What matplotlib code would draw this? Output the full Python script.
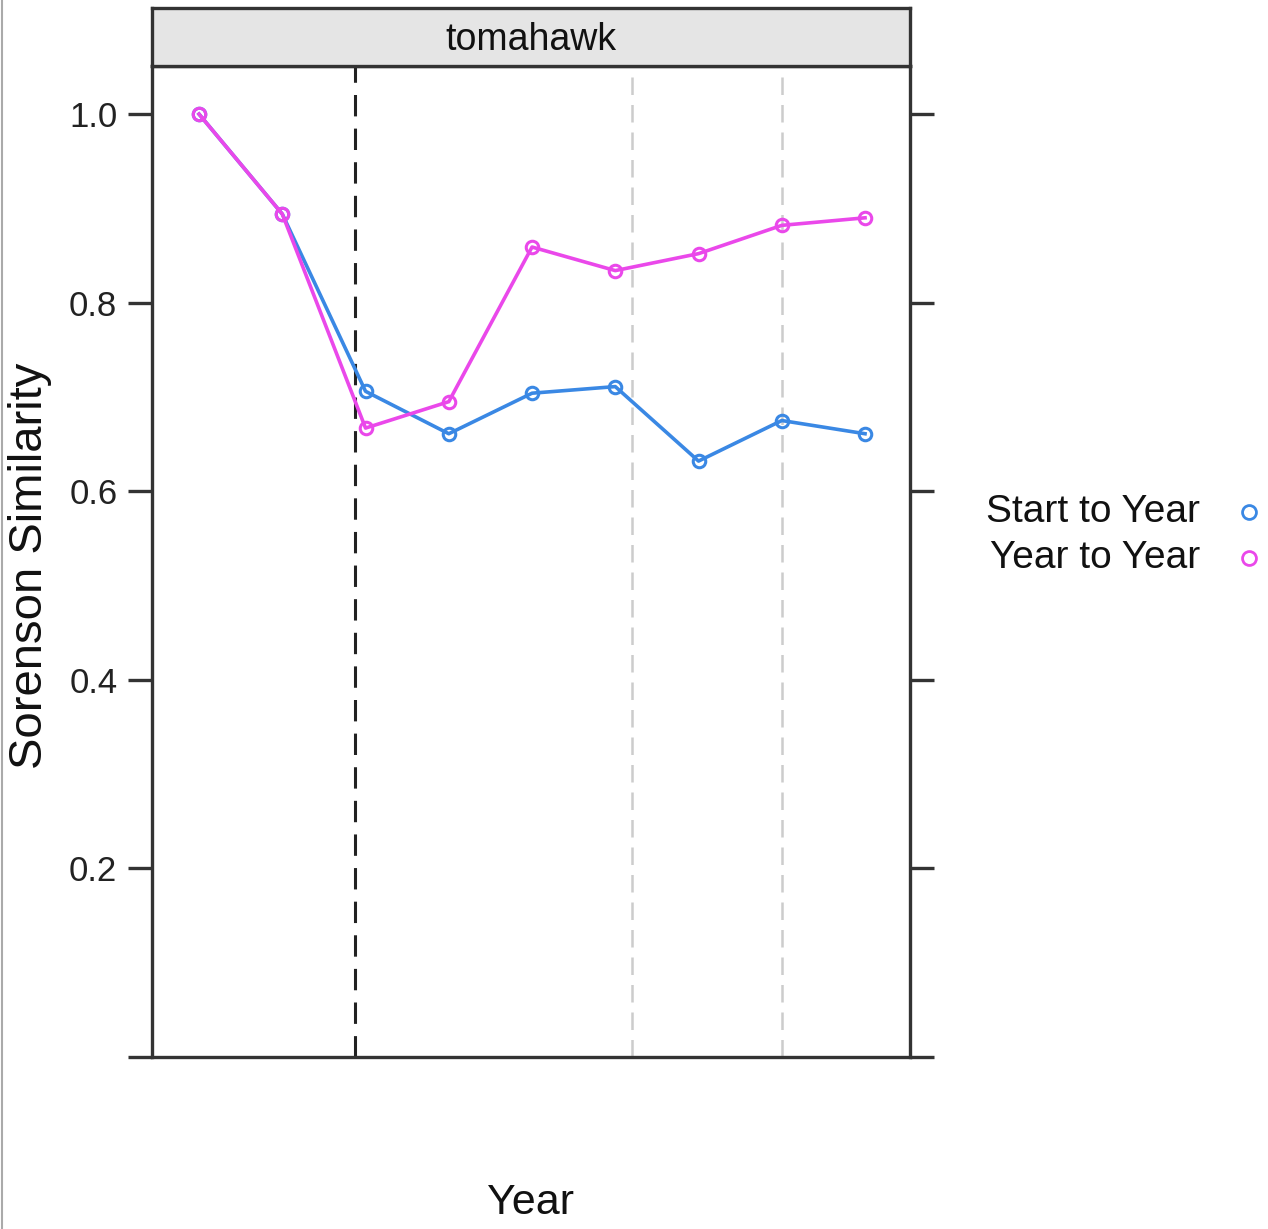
import matplotlib
matplotlib.use("Agg")
import matplotlib.pyplot as plt
from matplotlib.lines import Line2D

# ── Series ────────────────────────────────────────────────────────────────
step = [1, 2, 3, 4, 5, 6, 7, 8, 9]
start_to_year = [1.000, 0.894, 0.706, 0.661, 0.704, 0.711, 0.632, 0.675, 0.661]
year_to_year = [1.000, 0.894, 0.667, 0.695, 0.859, 0.834, 0.852, 0.882, 0.890]
series_names = ["Start to Year", "Year to Year"]
panel_name = "tomahawk"

# reference lines: (position, colour, width)
ref_lines = [(2.87, "#222222", 2.2), (6.20, "#cccccc", 1.8), (8.00, "#cccccc", 1.8)]

yticks = [0.0, 0.2, 0.4, 0.6, 0.8, 1.0]
ytick_labels = ["", "0.2", "0.4", "0.6", "0.8", "1.0"]

BLUE = "#3a88e4"
PINK = "#ea48ea"
NARROW = ["Liberation Sans Narrow", "Liberation Sans", "DejaVu Sans"]
WIDE = ["Liberation Sans", "DejaVu Sans"]

W, H = 1268, 1229
fig = plt.figure(figsize=(W / 100, H / 100), dpi=100)


def fx(px):
    return px / W


def fy(px):
    return 1 - px / H


# ── Main panel ────────────────────────────────────────────────────────────
ax = fig.add_axes([fx(152), fy(1057), fx(910) - fx(152), fy(66) - fy(1057)])
for xv, col, lw in ref_lines:
    ax.axvline(xv, color=col, lw=lw, ls=(0, (7, 4)), zorder=1)

ax.plot(step, start_to_year, color=BLUE, lw=2.6, marker="o", ms=9,
        mfc="none", mec=BLUE, mew=2.2, zorder=3)
ax.plot(step, year_to_year, color=PINK, lw=2.6, marker="o", ms=9,
        mfc="none", mec=PINK, mew=2.2, zorder=4)

ax.set_xlim(0.435, 9.54)
ax.set_ylim(0, 1.051)
ax.set_xticks([])
ax.set_yticks(yticks)
ax.set_yticklabels(ytick_labels, family=NARROW, fontsize=25, color="#222222")
ax.tick_params(axis="y", which="both", direction="out", length=17, width=2.4,
               color="#333333", left=True, right=True, labelleft=True,
               labelright=False, pad=8)
for sp in ax.spines.values():
    sp.set_linewidth(2.4)
    sp.set_color("#333333")

# ── Strip ─────────────────────────────────────────────────────────────────
strip = fig.add_axes([fx(152), fy(66), fx(910) - fx(152), fy(8) - fy(66)])
strip.set_facecolor("#e5e5e5")
strip.set_xticks([])
strip.set_yticks([])
for sp in strip.spines.values():
    sp.set_linewidth(2.4)
    sp.set_color("#333333")
strip.text(0.5, 0.44, panel_name, ha="center", va="center", fontsize=27,
           family=NARROW, color="#111111", transform=strip.transAxes)

# ── Axis titles ───────────────────────────────────────────────────────────
fig.text(fx(531), fy(1203), "Year", ha="center", va="center", fontsize=31,
         family=NARROW, color="#111111")
fig.text(fx(30), fy(566), "Sorenson Similarity", ha="center", va="center",
         rotation=90, fontsize=34, family=WIDE, color="#111111")

# ── Key ───────────────────────────────────────────────────────────────────
for i, (name, col) in enumerate(zip(series_names, [BLUE, PINK])):
    yy = fy(512 + 46 * i)
    fig.text(fx(1200), yy, name, ha="right", va="center", fontsize=28,
             family=NARROW, color="#111111")
    fig.add_artist(Line2D([fx(1249)], [yy], marker="o", ms=10, mfc="none",
                          mec=col, mew=2.0, transform=fig.transFigure))

# thin frame line along the left edge of the page
fig.add_artist(Line2D([fx(2), fx(2)], [0, 1], color="#aaaaaa", lw=1.5,
                      transform=fig.transFigure))

fig.savefig("out.png", dpi=100)
